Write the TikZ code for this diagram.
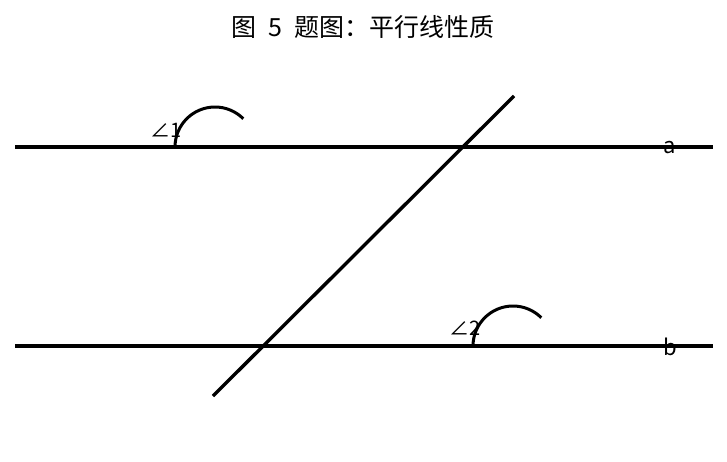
\documentclass[tikz,border=0pt]{standalone}
\usepackage{fontspec}
\setmainfont{Noto Sans CJK SC}
\begin{document}
\begin{tikzpicture}[x=1pt,y=-1pt,
  thickline/.style={line width=3.4pt},
  arcline/.style={line width=3pt},
  lbl/.style={inner sep=0pt,font=\fontsize{22}{26}\selectfont},
  anglbl/.style={inner sep=0pt,font=\fontsize{20}{24}\selectfont}]
\useasboundingbox (0,0) rectangle (727,461);
\node[inner sep=0pt,font=\fontsize{25}{30}\selectfont] (title) at (363,27)
  {图\hspace{0.5em}\makebox[0.5em]{5}\hspace{0.5em}题图：平行线性质};
% parallel lines
\coordinate (aL) at (15,147);
\coordinate (aR) at (713,147);
\coordinate (bL) at (15,346);
\coordinate (bR) at (713,346);
\draw[thickline] (aL) -- (aR);
\draw[thickline] (bL) -- (bR);
% transversal
\coordinate (tB) at (213,396);
\coordinate (tT) at (514,96);
\draw[thickline] (tB) -- (tT);
% angle arcs
\coordinate (c1) at (215,147);
\coordinate (c2) at (513,346);
\draw[arcline] ([xshift=-40pt]c1) arc[start angle=180,end angle=315,radius=40];
\draw[arcline] ([xshift=-40pt]c2) arc[start angle=180,end angle=315,radius=40];
% labels
\node[anglbl] (ang1) at (166,130) {∠1};
\node[anglbl] (ang2) at (465,328) {∠2};
\node[lbl] (la) at (670,148) {a};
\node[lbl] (lb) at (670,347) {b};
\end{tikzpicture}
\end{document}
